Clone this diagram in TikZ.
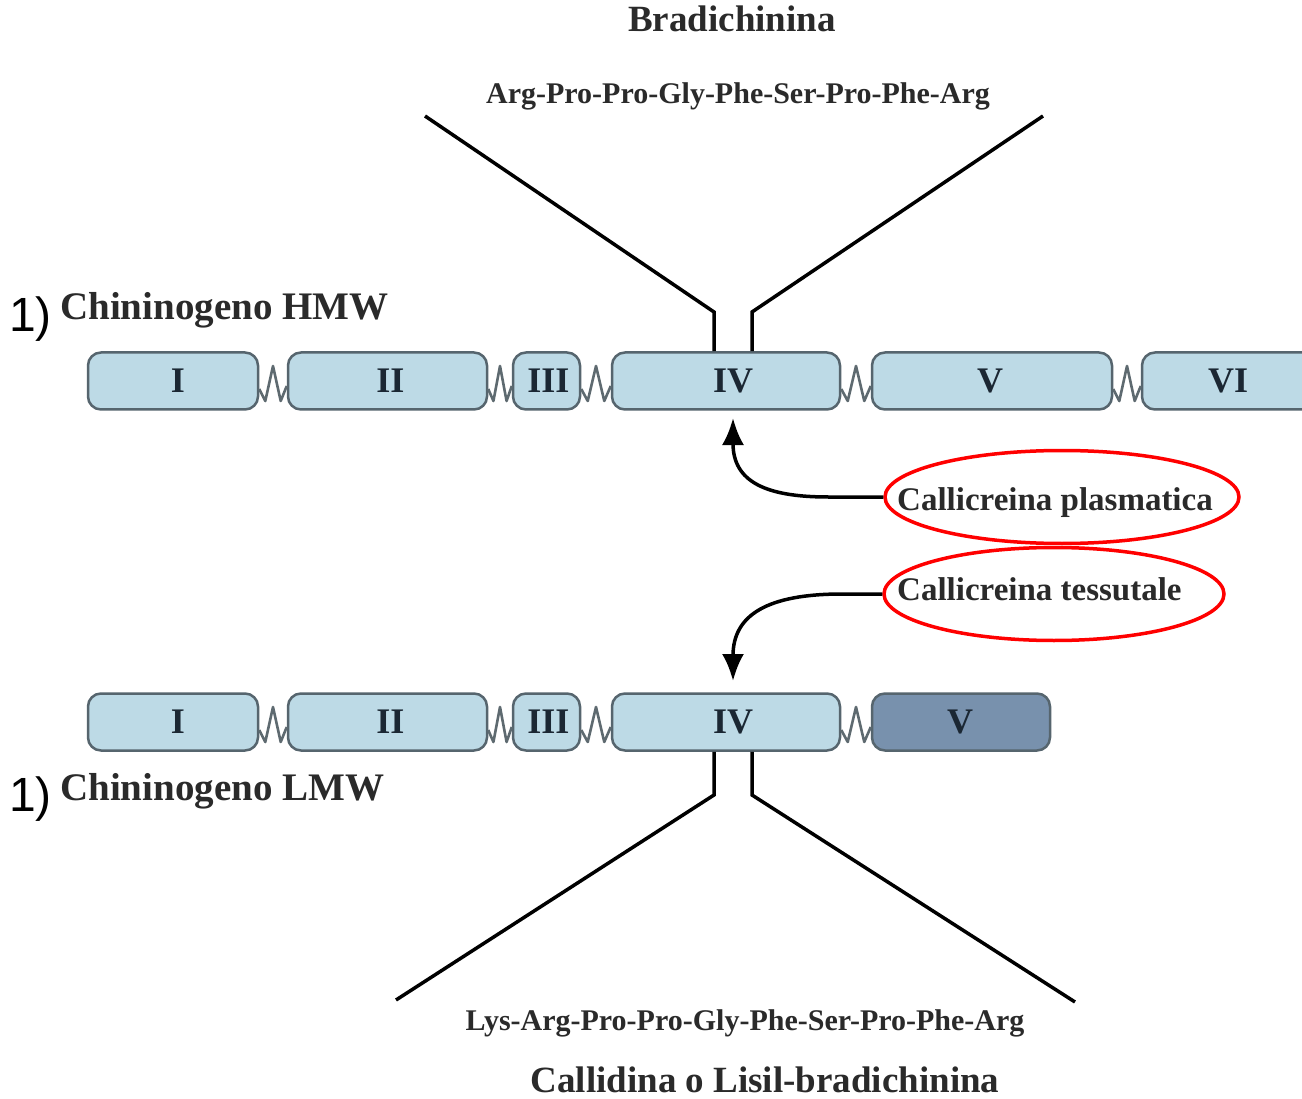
\documentclass[tikz,border=0pt]{standalone}
\usepackage{fontspec}
\setmainfont{Liberation Serif}
\newfontfamily\sansf{Liberation Sans}
\usetikzlibrary{arrows.meta,shapes.geometric,calc}
\definecolor{boxfill}{HTML}{BDDAE6}
\definecolor{boxdraw}{HTML}{56656E}
\definecolor{darkfill}{HTML}{7891AD}
\definecolor{numc}{HTML}{1B2733}
\definecolor{txt}{HTML}{2A2A2A}
\definecolor{zigc}{HTML}{5E6A70}
\newcommand\zigz[2]{\draw[zig] let \p1=(#1.east), \p2=(#2.west), \n1={\x2-\x1} in
  (\x1,\y1-8pt) -- (\x1+0.22*\n1,\y1-20pt) -- (\x1+0.5*\n1,\y1+15pt) -- (\x1+0.78*\n1,\y1-20pt) -- (\x2,\y2-5pt);}
\begin{document}
\begin{tikzpicture}[x=1pt,y=-1pt,
  dom/.style={draw=boxdraw, line width=2.5pt, fill=boxfill, rounded corners=13pt,
    minimum height=57pt, inner sep=0pt},
  darkdom/.style={dom, fill=darkfill},
  numl/.style={inner sep=0pt, text=numc, font=\fontsize{36}{40}\selectfont\bfseries},
  zig/.style={draw=zigc, line width=2.6pt, line join=round},
  lab/.style={inner sep=0pt, text=txt, font=\bfseries},
  one/.style={inner sep=0pt, text=black, font=\sansf\fontsize{48}{50}\selectfont},
  bk/.style={line width=3.5pt, black},
  arr/.style={line width=3.5pt, black, -{Latex[length=27pt,width=22pt]}},
  ell/.style={ellipse, draw=red, line width=3.5pt, minimum width=354pt, minimum height=93pt, inner sep=0pt}]
\clip (0,0) rectangle (1302,1099);
\fill[white] (0,0) rectangle (1302,1099);

% titles
\node[lab, font=\fontsize{37}{40}\selectfont\bfseries, anchor=base] (brad) at (732,32) {Bradichinina};
\node[lab, font=\fontsize{30}{34}\selectfont\bfseries, anchor=base] (seq1) at (738,104) {Arg-Pro-Pro-Gly-Phe-Ser-Pro-Phe-Arg};
\node[lab, font=\fontsize{30}{34}\selectfont\bfseries, anchor=base] (seq2) at (745,1030) {Lys-Arg-Pro-Pro-Gly-Phe-Ser-Pro-Phe-Arg};
\node[lab, font=\fontsize{37}{40}\selectfont\bfseries, anchor=base] (calli) at (765,1092) {Callidina o Lisil-bradichinina};

\node[one, anchor=base west] (n1) at (9,332) {1)};
\node[lab, font=\fontsize{39}{42}\selectfont\bfseries, anchor=base west] (hmw) at (60,320) {Chininogeno HMW};
\node[one, anchor=base west] (n2) at (9,811) {1)};
\node[lab, font=\fontsize{39}{42}\selectfont\bfseries, anchor=base west] (lmw) at (60,800) {Chininogeno LMW};

% HMW domains
\node[dom, minimum width=170pt, label={[numl,xshift=5pt]center:I}] (h1) at (173,381) {};
\node[dom, minimum width=199pt, label={[numl,xshift=3pt]center:II}] (h2) at (387.5,381) {};
\node[dom, minimum width=67pt, label={[numl,xshift=2pt]center:III}] (h3) at (546.5,381) {};
\node[dom, minimum width=228pt, label={[numl,xshift=7pt]center:IV}] (h4) at (726,381) {};
\node[dom, minimum width=240pt, label={[numl,xshift=-2pt]center:V}] (h5) at (992,381) {};
\node[dom, minimum width=188pt, label={[numl,xshift=-8pt]center:VI}] (h6) at (1236,381) {};
\zigz{h1}{h2}
\zigz{h2}{h3}
\zigz{h3}{h4}
\zigz{h4}{h5}
\zigz{h5}{h6}

% LMW domains
\node[dom, minimum width=170pt, label={[numl,xshift=5pt]center:I}] (l1) at (173,722) {};
\node[dom, minimum width=199pt, label={[numl,xshift=3pt]center:II}] (l2) at (387.5,722) {};
\node[dom, minimum width=67pt, label={[numl,xshift=2pt]center:III}] (l3) at (546.5,722) {};
\node[dom, minimum width=228pt, label={[numl,xshift=7pt]center:IV}] (l4) at (726,722) {};
\node[darkdom, minimum width=178pt, label={[numl,xshift=-1pt]center:V}] (l5) at (961,722) {};
\zigz{l1}{l2}
\zigz{l2}{l3}
\zigz{l3}{l4}
\zigz{l4}{l5}

% bradykinin release lines
\coordinate (ta) at (425,116);
\coordinate (tb) at (714,312);
\coordinate (tc) at (1043,116);
\coordinate (td) at (752,312);
\draw[bk] (ta) -- (tb) -- (tb |- h4.north);
\draw[bk] (tc) -- (td) -- (td |- h4.north);
\coordinate (ba) at (396,1000);
\coordinate (bb) at (714,795);
\coordinate (bc) at (1075,1002);
\coordinate (bd) at (752,795);
\draw[bk] (ba) -- (bb) -- (bb |- l4.south);
\draw[bk] (bc) -- (bd) -- (bd |- l4.south);

% enzymes
\node[ell] (cp) at (1062,497) {};
\node[lab, font=\fontsize{33}{36}\selectfont\bfseries, anchor=base west] (cpt) at (897,510) {Callicreina plasmatica};
\node[ell, minimum width=340pt] (ct) at (1054,594) {};
\node[lab, font=\fontsize{33}{36}\selectfont\bfseries, anchor=base west] (ctt) at (897,600) {Callicreina tessutale};

\coordinate (t1) at (733,418);
\coordinate (t2) at (733,681);
\draw[arr] (cp.west) -- ++(-55,0) .. controls +(-62,0) and (733,482) .. (t1);
\draw[arr] (ct.west) -- ++(-40,0) .. controls +(-75,0) and (733,615) .. (t2);
\end{tikzpicture}
\end{document}
